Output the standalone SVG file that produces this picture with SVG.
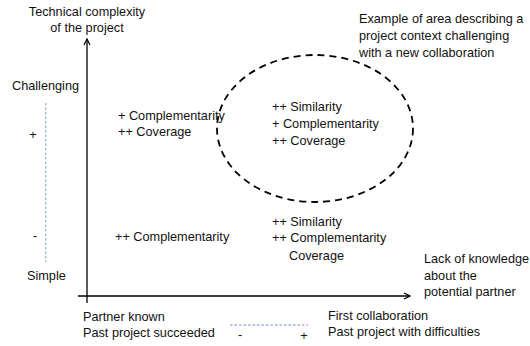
<svg xmlns="http://www.w3.org/2000/svg" width="530" height="346" viewBox="0 0 530 346">
<defs>
<marker id="arr" markerWidth="8" markerHeight="8" refX="7" refY="4" orient="auto" markerUnits="userSpaceOnUse">
<path d="M1,1 L7,4 L1,7" fill="none" stroke="#000" stroke-width="1.2"/>
</marker>
</defs>
<style>
text{font-family:"Liberation Sans",Arial,sans-serif;font-size:12.7px;fill:#111}
.ax{stroke:#000;stroke-width:1.3;fill:none}
.blue{stroke:#9ab5d8;stroke-width:1.3;stroke-dasharray:2.5 2;fill:none}
.ell{stroke:#000;stroke-width:1.8;stroke-dasharray:7 5;fill:none}
.mid{text-anchor:middle}
</style>
<rect width="530" height="346" fill="#fff"/>
<g id="connectors">
<line class="ax" x1="87" y1="303" x2="87" y2="39" marker-end="url(#arr)"/>
<line class="ax" x1="78" y1="296" x2="410" y2="296" marker-end="url(#arr)"/>
<line class="blue" x1="45.7" y1="103" x2="45.7" y2="262"/>
<line class="blue" x1="230" y1="325" x2="308" y2="325"/>
</g>
<g id="y-axis-label">
<text class="mid" x="87" y="16">Technical complexity</text>
<text class="mid" x="87" y="32">of the project</text>
</g>
<g id="y-scale">
<text x="12" y="90">Challenging</text>
<text class="mid" x="33" y="139">+</text>
<text class="mid" x="35" y="240">-</text>
<text x="27" y="280">Simple</text>
</g>
<g id="x-scale">
<text x="83" y="321">Partner known</text>
<text x="83" y="337">Past project succeeded</text>
<text class="mid" x="240" y="339">-</text>
<text class="mid" x="304" y="340">+</text>
<text x="328" y="320">First collaboration</text>
<text x="328" y="336">Past project with difficulties</text>
</g>
<g id="x-axis-label">
<text x="424" y="263">Lack of knowledge</text>
<text x="424" y="280">about the</text>
<text x="424" y="296">potential partner</text>
</g>
<g id="area-note">
<text x="359" y="23">Example of area describing a</text>
<text x="359" y="40">project context challenging</text>
<text x="359" y="57">with a new collaboration</text>
</g>
<g id="area">
<ellipse class="ell" cx="315" cy="128.5" rx="98" ry="73.5"/>
</g>
<g id="q-top-left">
<text x="118" y="120">+ Complementarity</text>
<text x="118" y="136">++ Coverage</text>
</g>
<g id="q-top-right">
<text x="272" y="111">++ Similarity</text>
<text x="272" y="128">+ Complementarity</text>
<text x="272" y="145">++ Coverage</text>
</g>
<g id="q-bottom-left">
<text x="115" y="241">++ Complementarity</text>
</g>
<g id="q-bottom-right">
<text x="272" y="226">++ Similarity</text>
<text x="272" y="242">++ Complementarity</text>
<text x="289" y="260">Coverage</text>
</g>
</svg>
